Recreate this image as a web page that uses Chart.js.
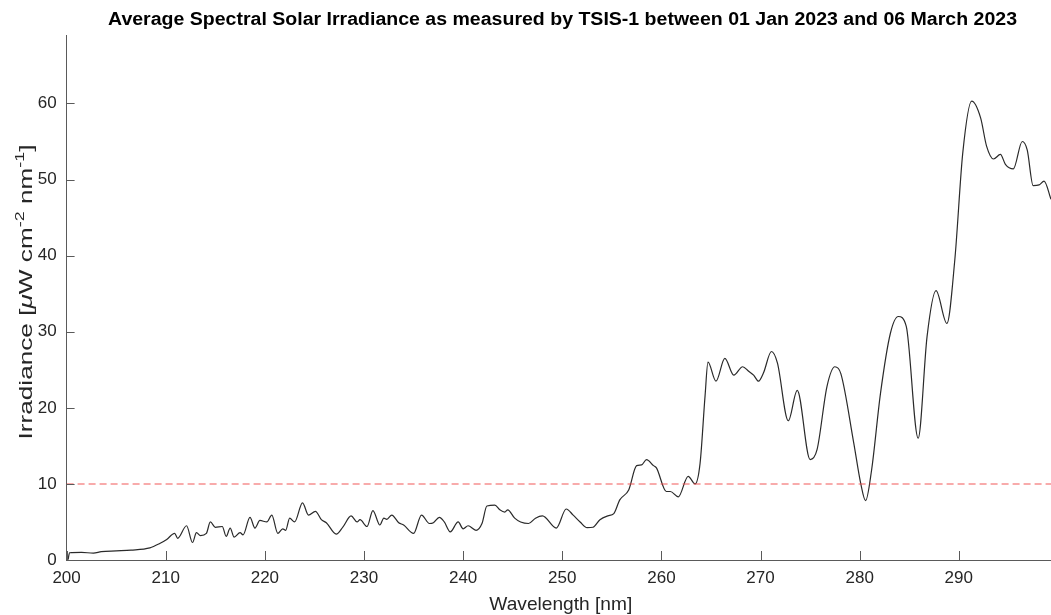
<!DOCTYPE html>
<html>
<head>
<meta charset="utf-8">
<script src="https://cdn.jsdelivr.net/npm/chart.js@4/dist/chart.umd.min.js"></script>
<style>
  html, body { margin: 0; padding: 0; background: #fff; }
  #wrap { width: 1051px; height: 615px; position: relative; }
</style>
</head>
<body>
<div id="wrap"><canvas id="spectrum"></canvas></div>
<script>
// values
const wavelength = [
  200.15, 200.3, 201.5, 202.7, 203.5, 205.0, 206.5, 208.4, 209.3, 210.1,
  210.9, 211.2, 212.1, 212.7, 213.1, 213.5, 214.1, 214.5, 215.0, 215.7,
  216.1, 216.5, 216.9, 217.5, 217.8, 218.5, 219.0, 219.5, 220.2, 220.7,
  221.3, 221.8, 222.1, 222.5, 223.0, 223.8, 224.4, 225.1, 225.7, 226.2,
  227.2, 227.9, 228.7, 229.3, 229.6, 230.3, 230.9, 231.6, 232.0, 232.3,
  232.8, 233.5, 234.0, 235.0, 235.8, 236.6, 237.0, 237.6, 238.1, 238.7,
  239.5, 240.0, 240.5, 241.3, 241.9, 242.4, 243.2, 243.7, 244.2, 244.5,
  245.2, 245.8, 246.6, 247.3, 248.0, 249.4, 250.4, 251.1, 251.8, 252.5,
  253.1, 253.8, 254.6, 255.2, 255.8, 256.7, 257.5, 258.0, 258.5, 259.2,
  259.5, 260.5, 260.9, 261.7, 262.7, 263.4, 263.9, 264.4, 264.7, 265.5,
  266.4, 267.3, 268.2, 268.8, 269.3, 269.8, 270.3, 271.1, 271.7, 272.8,
  273.7, 275.0, 275.7, 276.7, 277.5, 278.1, 279.4, 280.1, 280.6, 281.2,
  282.1, 283.1, 283.9, 284.7, 285.9, 286.8, 287.7, 288.8, 289.6, 290.4,
  291.3, 292.2, 292.8, 293.5, 294.2, 294.7, 295.5, 296.4, 296.9, 297.5,
  298.1, 298.6, 299.3
];
const irradiance = [
  0.05, 0.95, 1.0, 0.9, 1.1, 1.2, 1.3, 1.6, 2.1, 2.7,
  3.5, 2.85, 4.5, 2.3, 3.6, 3.2, 3.5, 5.0, 4.3, 4.4,
  3.1, 4.2, 3.0, 3.6, 3.3, 5.6, 4.2, 5.2, 5.0, 5.9,
  3.5, 4.1, 3.9, 5.5, 5.0, 7.5, 5.9, 6.4, 5.3, 4.9,
  3.4, 4.4, 5.8, 5.0, 5.3, 4.4, 6.5, 4.6, 5.5, 5.35,
  5.9, 4.9, 4.6, 3.5, 5.9, 4.8, 4.9, 5.6, 5.0, 3.7,
  5.0, 4.1, 4.5, 3.9, 4.8, 7.1, 7.2, 6.6, 6.3, 6.6,
  5.5, 5.0, 4.8, 5.5, 5.8, 4.2, 6.7, 5.9, 5.0, 4.25,
  4.3, 5.3, 5.8, 6.1, 7.9, 9.2, 12.4, 12.5, 13.2, 12.4,
  12.1, 9.0, 9.0, 8.3, 11.0, 10.0, 12.7, 21.5, 26.0, 23.5,
  26.5, 24.3, 25.4, 24.8, 24.3, 23.5, 24.6, 27.4, 25.9, 18.3,
  22.3, 13.2, 14.5, 22.8, 25.4, 24.5, 15.4, 10.1, 7.8, 11.8,
  21.9, 29.8, 32.0, 30.7, 16.0, 29.4, 35.4, 31.1, 39.5, 53.5,
  60.3, 58.1, 54.4, 52.7, 53.3, 52.0, 51.4, 55.0, 53.9, 49.2,
  49.3, 49.8, 47.4
];
const threshold = 10;
const xRange = [200, 299.3];
const yRange = [0, 69];

const titleText = 'Average Spectral Solar Irradiance as measured by TSIS-1 between 01 Jan 2023 and 06 March 2023';
const xLabel = 'Wavelength [nm]';

const textColor = '#262626';
const axisColor = '#5a5a5a';
const fontFamily = '"Liberation Sans", Arial, Helvetica, sans-serif';

const spectrumPoints = wavelength.map((w, i) => ({ x: w, y: irradiance[i] }));
const thresholdPoints = xRange.map(w => ({ x: w, y: threshold }));

// draw text centred on (cx, y) and squeezed/stretched to a given width
function fittedText(ctx, text, font, cx, y, width) {
  ctx.save();
  ctx.font = font;
  const w = ctx.measureText(text).width;
  ctx.translate(cx, y);
  ctx.scale(width / w, 1);
  ctx.textAlign = 'center';
  ctx.fillText(text, 0, 0);
  ctx.restore();
}

// title, axis labels and inward ticks, MATLAB style
const overlay = {
  id: 'overlay',
  afterDraw(chart) {
    const { ctx, chartArea: a, scales: { x, y } } = chart;
    ctx.save();

    ctx.strokeStyle = axisColor;
    ctx.lineWidth = 1;
    ctx.beginPath();
    x.ticks.forEach(t => {
      const px = Math.round(x.getPixelForValue(t.value)) + 0.5;
      ctx.moveTo(px, a.bottom);
      ctx.lineTo(px, a.bottom - 9);
    });
    y.ticks.forEach(t => {
      const py = Math.round(y.getPixelForValue(t.value)) + 0.5;
      ctx.moveTo(a.left, py);
      ctx.lineTo(a.left + 8, py);
    });
    ctx.stroke();

    ctx.textBaseline = 'alphabetic';
    ctx.fillStyle = '#000';
    fittedText(ctx, titleText, 'bold 18px ' + fontFamily, 562.5, 25, 909);

    ctx.fillStyle = textColor;
    fittedText(ctx, xLabel, '19px ' + fontFamily, (a.left + a.right) / 2 + 2, 610, 143);

    // y label with italic mu and superscripts, stretched along its length
    const parts = [
      { t: 'Irradiance [', f: '19px ' + fontFamily, dy: 0 },
      { t: '\u03bc', f: 'italic 19px ' + fontFamily, dy: 0 },
      { t: 'W cm', f: '19px ' + fontFamily, dy: 0 },
      { t: '-2', f: '13px ' + fontFamily, dy: -8 },
      { t: ' nm', f: '19px ' + fontFamily, dy: 0 },
      { t: '-1', f: '13px ' + fontFamily, dy: -8 },
      { t: ']', f: '19px ' + fontFamily, dy: 0 }
    ];
    let total = 0;
    parts.forEach(p => { ctx.font = p.f; p.w = ctx.measureText(p.t).width; total += p.w; });
    const labelLength = 295;
    ctx.translate(32, 292);
    ctx.rotate(-Math.PI / 2);
    ctx.scale(labelLength / total, 1);
    ctx.textAlign = 'left';
    let cx = -total / 2;
    parts.forEach(p => {
      ctx.font = p.f;
      ctx.fillText(p.t, cx, p.dy);
      cx += p.w;
    });

    ctx.restore();
  }
};

new Chart(document.getElementById('spectrum').getContext('2d'), {
  type: 'scatter',
  data: {
    datasets: [
      {
        data: thresholdPoints,
        showLine: true,
        borderColor: 'rgba(240, 70, 70, 0.6)',
        borderWidth: 1.5,
        borderDash: [7, 4],
        pointRadius: 0
      },
      {
        data: spectrumPoints,
        showLine: true,
        borderColor: '#2a2a2a',
        borderWidth: 1.2,
        cubicInterpolationMode: 'monotone',
        pointRadius: 0
      }
    ]
  },
  options: {
    responsive: true,
    maintainAspectRatio: false,
    animation: false,
    layout: { padding: { top: 35, right: 0, bottom: 0, left: 0 } },
    plugins: {
      legend: { display: false },
      tooltip: { enabled: false },
      title: { display: false }
    },
    scales: {
      x: {
        type: 'linear',
        min: xRange[0],
        max: xRange[1],
        grid: { display: false, drawTicks: false },
        border: { display: true, color: axisColor, width: 1 },
        ticks: {
          stepSize: 10,
          color: textColor,
          padding: 8,
          maxRotation: 0,
          font: { family: fontFamily, size: 17 }
        },
        afterBuildTicks: s => { s.ticks = s.ticks.filter(t => t.value % 10 === 0); },
        afterFit: s => { s.height = 55; }
      },
      y: {
        type: 'linear',
        min: yRange[0],
        max: yRange[1],
        grid: { display: false, drawTicks: false },
        border: { display: true, color: axisColor, width: 1 },
        ticks: {
          stepSize: 10,
          color: textColor,
          padding: 10,
          font: { family: fontFamily, size: 17 }
        },
        afterBuildTicks: s => { s.ticks = s.ticks.filter(t => t.value % 10 === 0); },
        afterFit: s => { s.width = 66.6; }
      }
    }
  },
  plugins: [overlay]
});
</script>
</body>
</html>
